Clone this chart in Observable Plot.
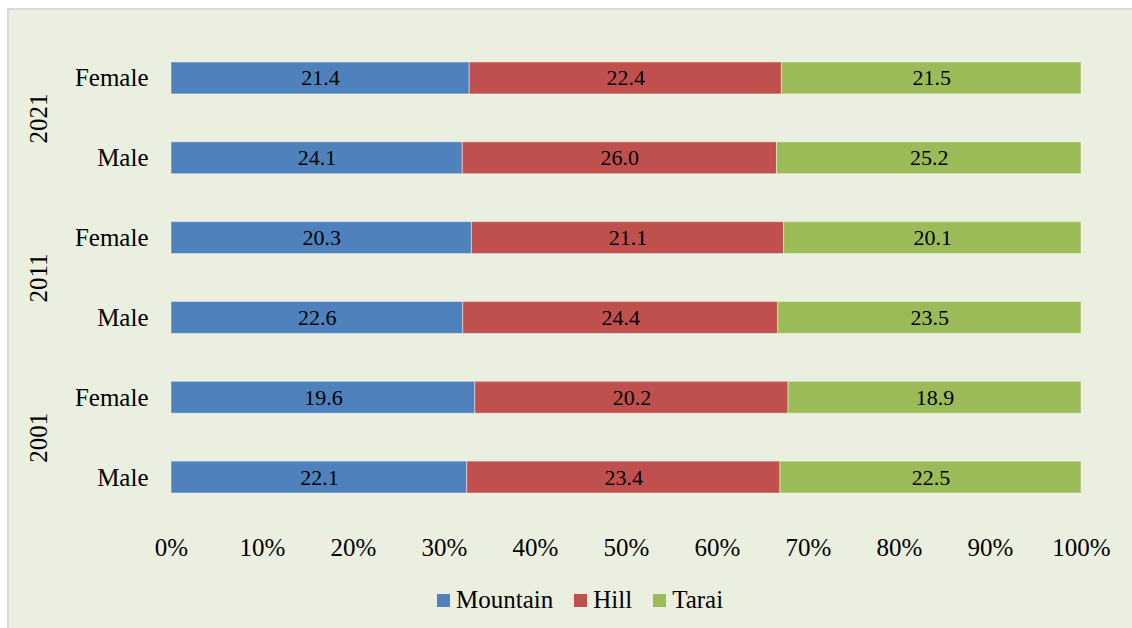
<!DOCTYPE html>
<html>
<head>
<meta charset="utf-8">
<script src="https://cdn.jsdelivr.net/npm/d3@7"></script>
<script src="https://cdn.jsdelivr.net/npm/@observablehq/plot@0.6"></script>
<style>
  html, body { margin: 0; padding: 0; background: #ffffff; width: 1132px; height: 628px; overflow: hidden; }
  #frame {
    position: absolute; left: 7px; top: 8px; width: 1140px; height: 640px;
    background: #EBEFDF; border-left: 2px solid #D9D9D9; border-top: 2px solid #D9D9D9;
    box-sizing: border-box;
  }
  #chart { position: absolute; left: 8px; top: 9px; }
  #legend {
    position: absolute; left: 437px; top: 586px; display: flex; align-items: center;
    font-family: "Liberation Serif", serif; font-size: 25px; color: #000;
  }
  .item { display: flex; align-items: center; margin-right: 21px; }
  .sw { width: 13px; height: 13px; margin-right: 6px; }
</style>
</head>
<body>
<div id="frame"></div>
<div id="chart"></div>
<div id="legend"></div>
<script>
const rowYears = ["2021", "2021", "2011", "2011", "2001", "2001"];
const rowSexes = ["Female", "Male", "Female", "Male", "Female", "Male"];
const mountain = [21.4, 24.1, 20.3, 22.6, 19.6, 22.1];
const hill     = [22.4, 26.0, 21.1, 24.4, 20.2, 23.4];
const tarai    = [21.5, 25.2, 20.1, 23.5, 18.9, 22.5];
const regions = ["Mountain", "Hill", "Tarai"];
const regionColors = ["#4F81BD", "#C0504D", "#9BBB59"];
const xTicks = [0, 10, 20, 30, 40, 50, 60, 70, 80, 90, 100];

const series = [mountain, hill, tarai];
const keys = rowYears.map((y, i) => y + "|" + rowSexes[i]);
const data = [];
keys.forEach((k, i) => {
  regions.forEach((r, j) => {
    data.push({key: k, year: rowYears[i], sex: rowSexes[i], region: r, value: series[j][i]});
  });
});
const yearRows = keys.map((k, i) => ({key: k, year: rowYears[i], sex: rowSexes[i]}))
  .filter(d => d.sex === "Female");

const chart = Plot.plot({
  width: 1124,
  height: 566,
  marginLeft: 163,
  marginRight: 51,
  marginTop: 45,
  marginBottom: 74,
  style: {fontFamily: "Liberation Serif, serif", fontSize: "25px", background: "transparent", color: "#000"},
  x: {domain: [0, 1]},
  y: {domain: keys, paddingInner: 0.6, paddingOuter: 0.1, round: false},
  color: {domain: regions, range: regionColors},
  marks: [
    Plot.barX(data, Plot.stackX({
      offset: "normalize", x: "value", y: "key", fill: "region",
      stroke: "#ffffff", strokeOpacity: 0.45, strokeWidth: 1
    })),
    Plot.text(data, Plot.stackX({
      offset: "normalize", x: "value", y: "key",
      text: d => d.value.toFixed(1), fontSize: 22, fill: "#000"
    })),
    Plot.axisX({ticks: xTicks.map(t => t / 100), tickFormat: d => Math.round(d * 100) + "%", tickSize: 0, tickPadding: 37, label: null, fontSize: 25}),
    Plot.axisY({tickSize: 0, tickPadding: 23, tickFormat: k => k.split("|")[1], label: null, fontSize: 25}),
    Plot.text(yearRows, {y: "key", text: "year", frameAnchor: "left", dx: -133, dy: 40, rotate: -90, textAnchor: "middle", lineAnchor: "middle", fontSize: 25, fill: "#000"})
  ]
});
document.getElementById("chart").appendChild(chart);

const legend = document.getElementById("legend");
regions.forEach((r, i) => {
  const item = document.createElement("div");
  item.className = "item";
  const sw = document.createElement("span");
  sw.className = "sw";
  sw.style.background = regionColors[i];
  const t = document.createElement("span");
  t.textContent = r;
  item.appendChild(sw);
  item.appendChild(t);
  legend.appendChild(item);
});
</script>
</body>
</html>
